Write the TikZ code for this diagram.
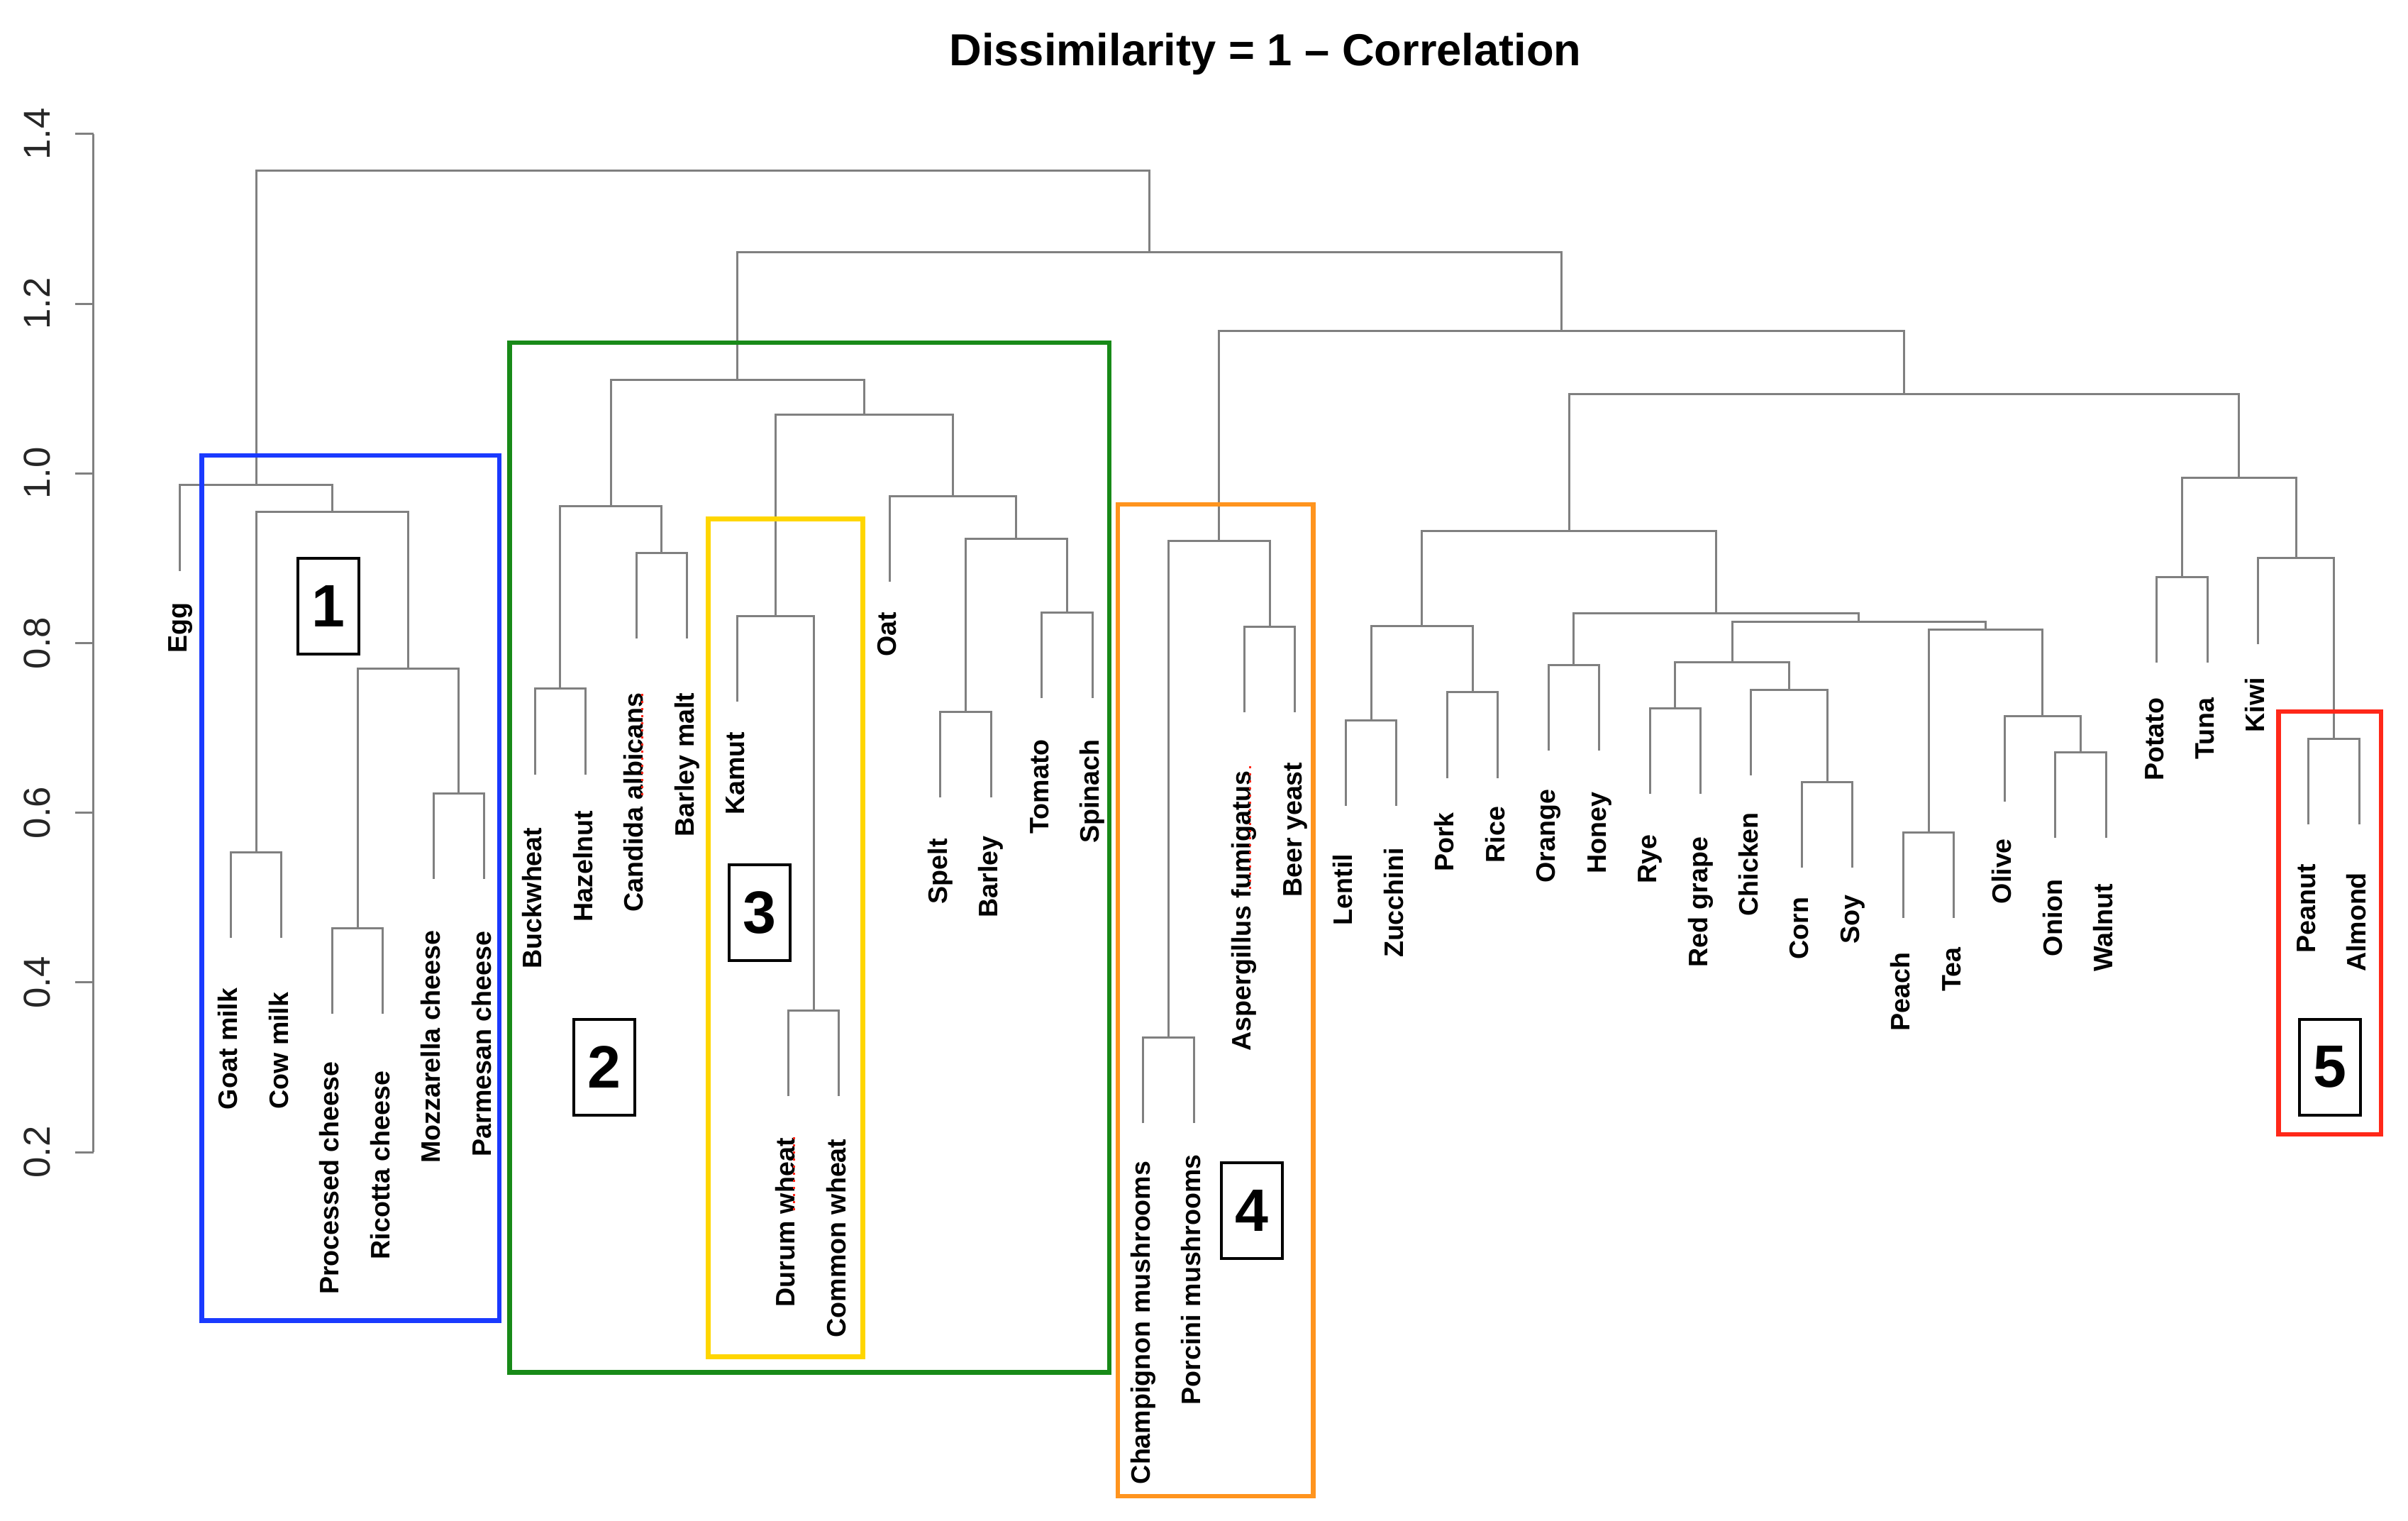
\documentclass[tikz,border=0pt]{standalone}
\usepackage{fontspec}
\setmainfont{Liberation Sans}
\definecolor{dgray}{RGB}{128,128,128}
\definecolor{cblue}{RGB}{26,58,255}
\definecolor{cgreen}{RGB}{24,138,24}
\definecolor{cyellow}{RGB}{255,214,0}
\definecolor{corange}{RGB}{255,148,30}
\definecolor{cred}{RGB}{255,40,25}
\tikzset{
  br/.style={draw=dgray, line width=0.3mm},
  lf/.style={rotate=90, anchor=east, inner sep=0pt, text height=2.7mm, text depth=0.8mm, font=\fontsize{10.7}{12}\selectfont\bfseries},
  grp/.style={line width=0.65mm},
  num/.style={draw, line width=0.4mm, minimum width=8.6mm, minimum height=13.5mm, inner sep=0pt, font=\fontsize{24}{28}\selectfont\bfseries},
  ticklbl/.style={rotate=90, inner sep=0pt, font=\fontsize{15}{18}\selectfont, text=black!85},
  spell/.style={draw=cred, line width=0.3mm, dotted}
}
\begin{document}
\begin{tikzpicture}[x=7.145mm, y=119.6mm]
\useasboundingbox (-3.5549,-0.23395) rectangle (43.9608,1.55786);

\node[font=\fontsize{18}{22}\selectfont\bfseries, anchor=base] (title) at (21.414,1.4805) {Dissimilarity = 1 – Correlation};

% y axis
\draw[br] (-1.713,0.2) -- (-1.713,1.4);
\foreach \v [count=\k] in {0.2,0.4,0.6,0.8,1.0,1.2,1.4} {
  \draw[br] (-1.713,\v) -- (-2.071,\v);
  \node[ticklbl] (tk\k) at (-2.82,\v) {\v};
}

% leaves: index/name/label/merge height/label top
\foreach \i/\n/\t/\p/\q in {
  0/egg/Egg/0.986/0.848, 1/goat/Goat milk/0.5535/0.394, 2/cow/Cow milk/0.5535/0.389,
  3/proc/Processed cheese/0.464/0.307, 4/ric/Ricotta cheese/0.464/0.296,
  5/moz/Mozzarella cheese/0.623/0.462, 6/parm/Parmesan cheese/0.623/0.461,
  7/buck/Buckwheat/0.746/0.583, 8/hazel/Hazelnut/0.746/0.603,
  9/cand/Candida albicans/0.906/0.742, 10/bmalt/Barley malt/0.906/0.742,
  11/kamut/Kamut/0.832/0.696, 12/durum/Durum wheat/0.367/0.217, 13/common/Common wheat/0.367/0.216,
  14/oat/Oat/0.973/0.837, 15/spelt/Spelt/0.719/0.570, 16/barley/Barley/0.719/0.573,
  17/tomato/Tomato/0.836/0.687, 18/spinach/Spinach/0.836/0.687,
  19/champ/Champignon mushrooms/0.335/0.190, 20/porc/Porcini mushrooms/0.335/0.198,
  21/asp/Aspergillus fumigatus/0.819/0.650, 22/beer/Beer yeast/0.819/0.660,
  23/lentil/Lentil/0.709/0.552, 24/zucc/Zucchini/0.709/0.559,
  25/pork/Pork/0.742/0.601, 26/rice/Rice/0.742/0.608,
  27/orange/Orange/0.774/0.628, 28/honey/Honey/0.774/0.625,
  29/rye/Rye/0.723/0.575, 30/grape/Red grape/0.723/0.572, 31/chicken/Chicken/0.745/0.601,
  32/corn/Corn/0.636/0.501, 33/soy/Soy/0.636/0.504,
  34/peach/Peach/0.577/0.436, 35/tea/Tea/0.577/0.442,
  36/olive/Olive/0.714/0.570, 37/onion/Onion/0.671/0.522, 38/walnut/Walnut/0.671/0.517,
  39/potato/Potato/0.878/0.736, 40/tuna/Tuna/0.878/0.736, 41/kiwi/Kiwi/0.900/0.760,
  42/peanut/Peanut/0.687/0.540, 43/almond/Almond/0.687/0.530} {
  \coordinate (\n) at (\i,\p-0.101);
  \node[lf] (\n-l) at (\i,\q) {\t};
}

% merges
\coordinate (gc) at (1.5,0.5535);
\coordinate (pr) at (3.5,0.464);
\coordinate (mp) at (5.5,0.623);
\coordinate (chs) at (4.5,0.770);
\coordinate (dairy) at (3,0.955);
\coordinate (eggs) at (1.5,0.986);
\coordinate (bh) at (7.5,0.746);
\coordinate (cb) at (9.5,0.906);
\coordinate (bc) at (8.5,0.961);
\coordinate (dc) at (12.5,0.367);
\coordinate (kam) at (11.75,0.832);
\coordinate (sb) at (15.5,0.719);
\coordinate (ts) at (17.5,0.836);
\coordinate (sbts) at (16.5,0.923);
\coordinate (oats) at (15.25,0.973);
\coordinate (ko) at (13.5,1.069);
\coordinate (grp2) at (11,1.110);
\coordinate (cp) at (19.5,0.335);
\coordinate (ab) at (21.5,0.819);
\coordinate (grp4) at (20.5,0.920);
\coordinate (lz) at (23.5,0.709);
\coordinate (prk) at (25.5,0.742);
\coordinate (lp) at (24.5,0.820);
\coordinate (oh) at (27.5,0.774);
\coordinate (rr) at (29.5,0.723);
\coordinate (cs) at (32.5,0.636);
\coordinate (chk) at (31.75,0.745);
\coordinate (rc) at (30.625,0.777);
\coordinate (pt) at (34.5,0.577);
\coordinate (ow) at (37.5,0.671);
\coordinate (ol) at (36.75,0.714);
\coordinate (po) at (35.625,0.8155);
\coordinate (rcpo) at (33.125,0.8246);
\coordinate (ohx) at (30.3125,0.8353);
\coordinate (mid) at (27.40625,0.9324);
\coordinate (pot) at (39.5,0.878);
\coordinate (pa) at (42.5,0.687);
\coordinate (kiw) at (41.75,0.900);
\coordinate (pk) at (40.625,0.995);
\coordinate (rgt) at (34.015625,1.093);
\coordinate (g4r) at (27.2578,1.168);
\coordinate (g2r) at (19.1289,1.261);
\coordinate (root) at (10.3145,1.357);

\foreach \a/\m/\b in {goat/gc/cow, proc/pr/ric, moz/mp/parm, pr/chs/mp, gc/dairy/chs, egg/eggs/dairy,
  buck/bh/hazel, cand/cb/bmalt, bh/bc/cb, durum/dc/common, kamut/kam/dc,
  spelt/sb/barley, tomato/ts/spinach, sb/sbts/ts, oat/oats/sbts, kam/ko/oats, bc/grp2/ko,
  champ/cp/porc, asp/ab/beer, cp/grp4/ab,
  lentil/lz/zucc, pork/prk/rice, lz/lp/prk, orange/oh/honey,
  rye/rr/grape, corn/cs/soy, chicken/chk/cs, rr/rc/chk,
  peach/pt/tea, onion/ow/walnut, olive/ol/ow, pt/po/ol, rc/rcpo/po, oh/ohx/rcpo, lp/mid/ohx,
  potato/pot/tuna, peanut/pa/almond, kiwi/kiw/pa, pot/pk/kiw,
  mid/rgt/pk, grp4/g4r/rgt, grp2/g2r/g4r, eggs/root/g2r}
  \draw[br] (\a) |- (\m) -| (\b);

% spell-check marks
\draw[spell] (9.125,0.7401) -- (9.125,0.6158);
\draw[spell] (12.12,0.2174) -- (12.12,0.1279);
\draw[spell] (21.115,0.6549) -- (21.115,0.5085);

% cluster frames
\draw[grp, draw=cblue] (0.4297,0.0013) rectangle (6.2981,1.0209);
\draw[grp, draw=cgreen] (6.4997,-0.0596) rectangle (18.3317,1.1542);
\draw[grp, draw=cyellow] (10.4227,-0.0411) rectangle (13.4682,0.9462);
\draw[grp, draw=corange] (18.5024,-0.2054) rectangle (22.3582,0.9634);
\draw[grp, draw=cred] (41.4066,0.2209) rectangle (43.4290,0.7192);

\node[num] (n1) at (2.9202,0.8431) {1};
\node[num] (n2) at (8.3625,0.3003) {2};
\node[num] (n3) at (11.4346,0.4819) {3};
\node[num] (n4) at (21.1421,0.1313) {4};
\node[num] (n5) at (42.424,0.3003) {5};
\end{tikzpicture}
\end{document}
